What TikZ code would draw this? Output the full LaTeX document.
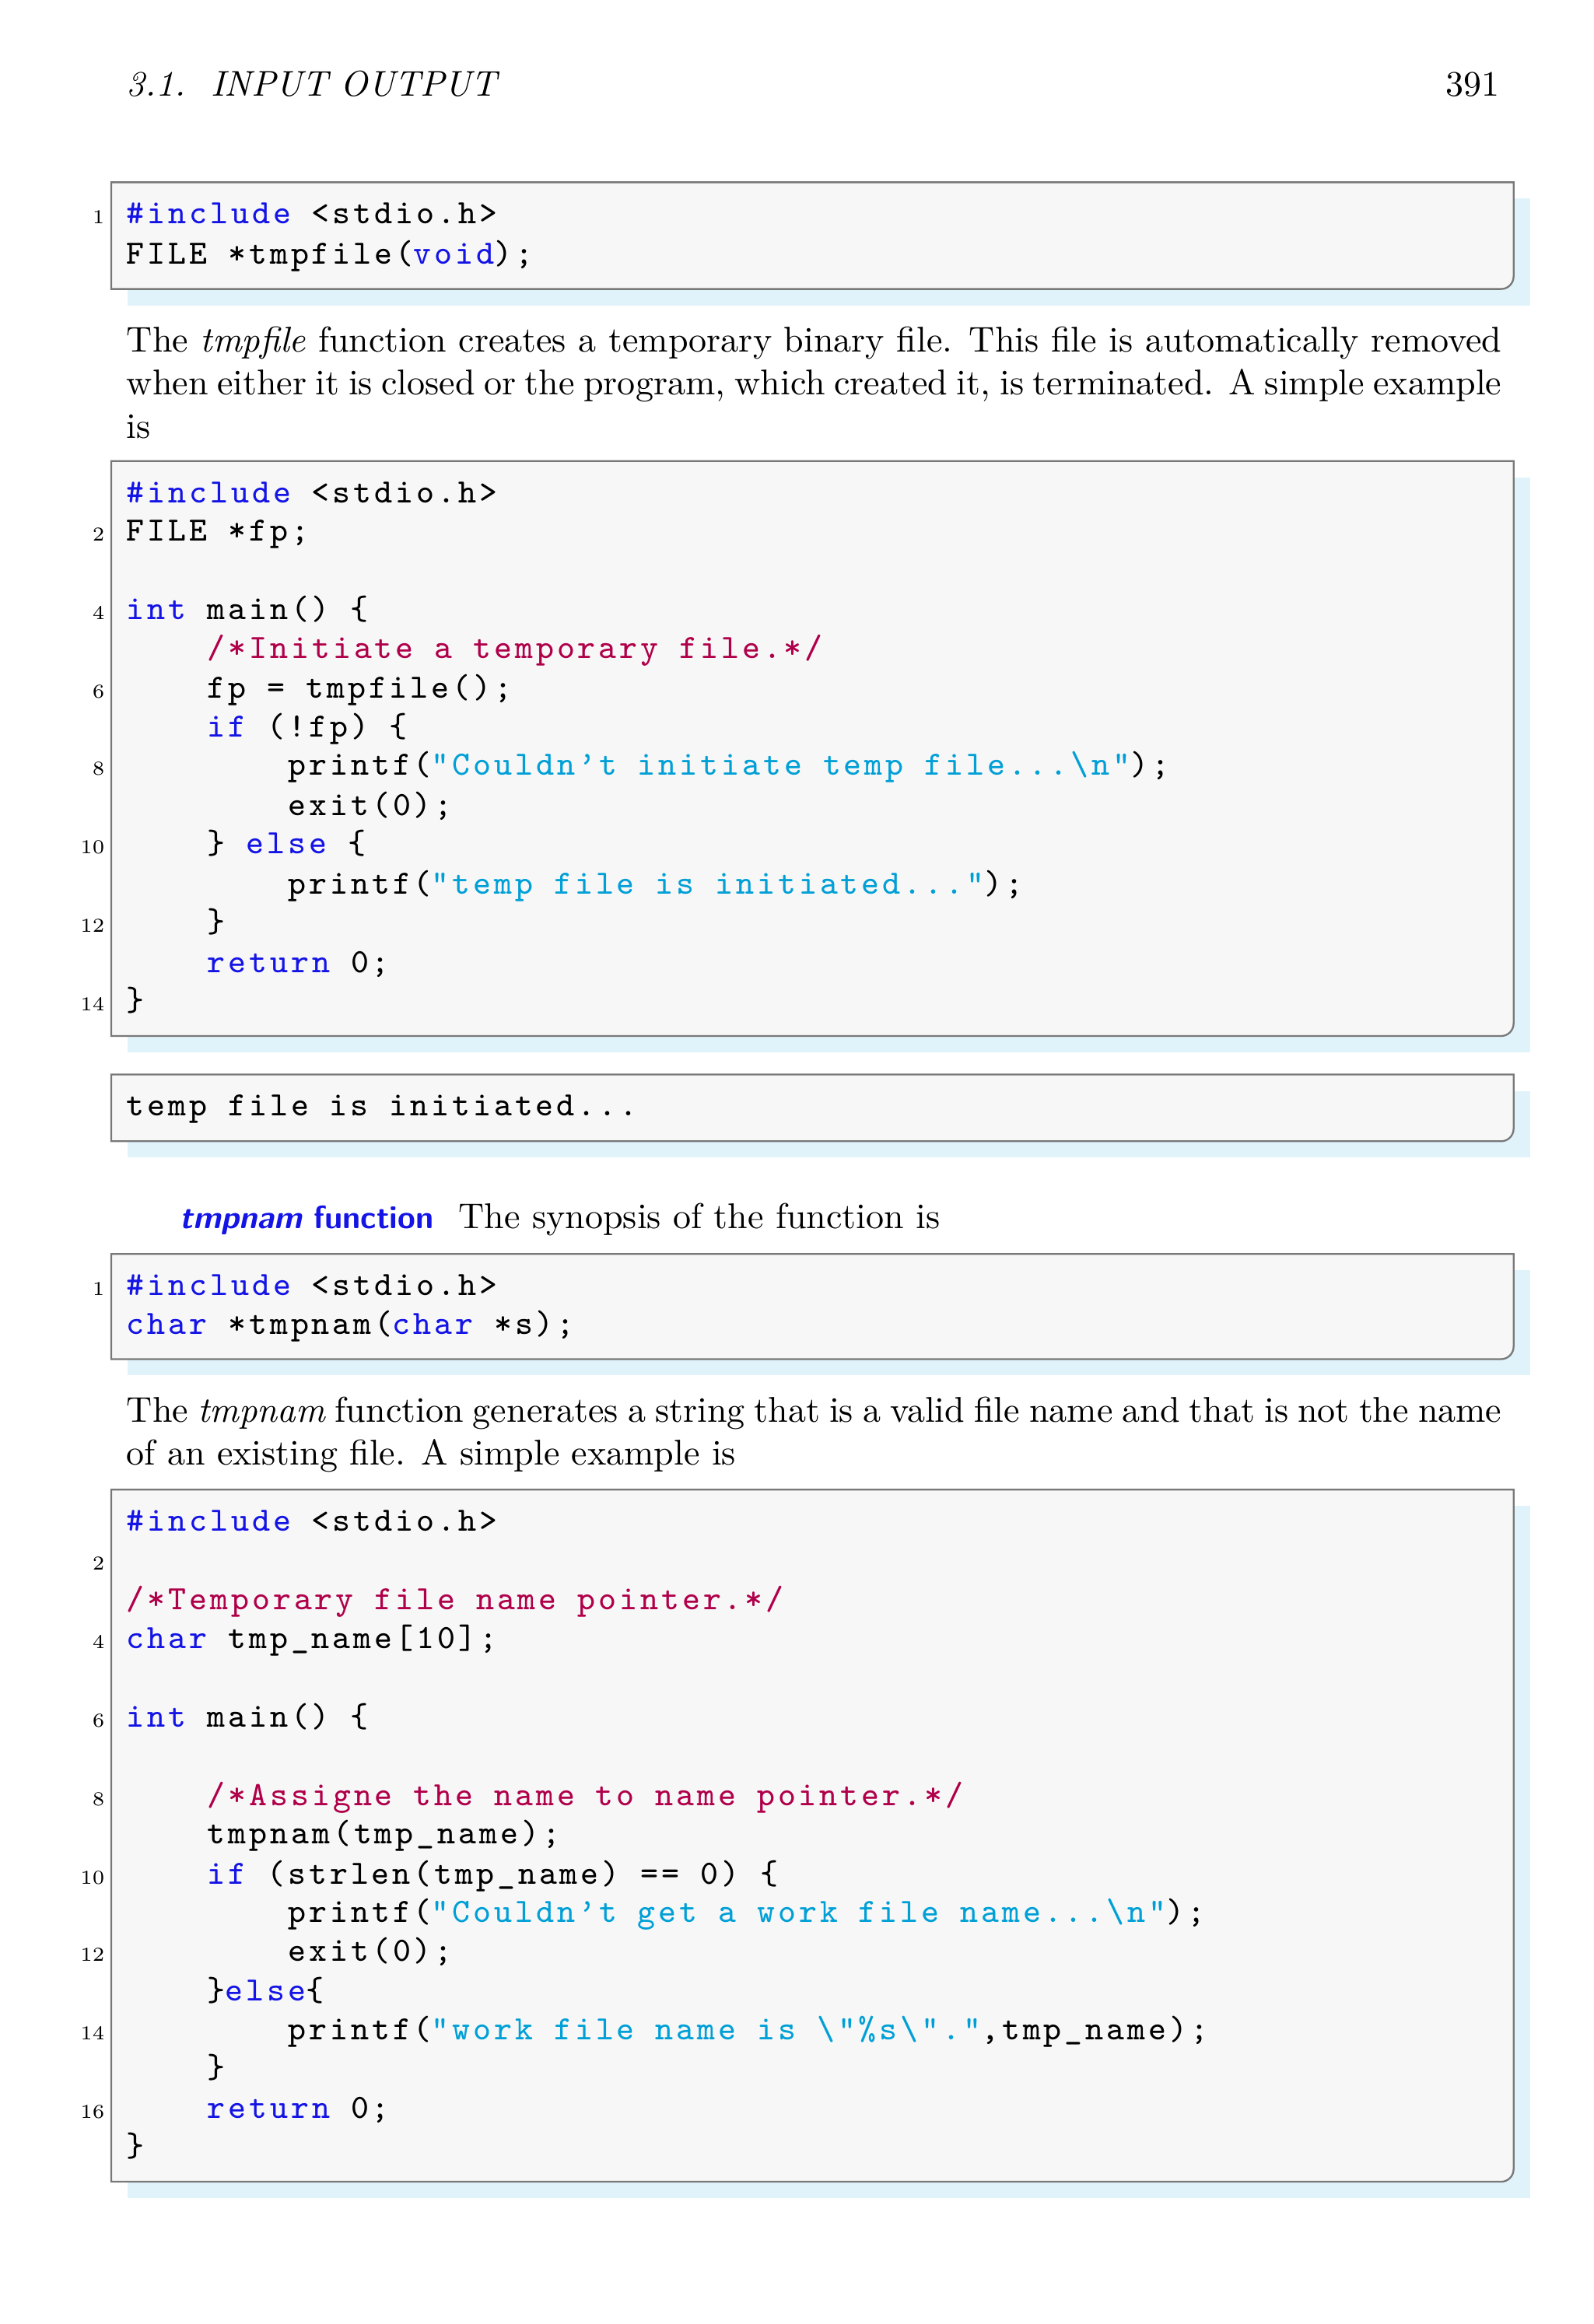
\documentclass[tikz,border=0pt]{standalone}
\usepackage{fontspec}
\newfontfamily\codefont{Latin Modern Mono}[LetterSpace=9]
\usepackage{xcolor}
\definecolor{kw}{RGB}{20,20,230}
\definecolor{cm}{RGB}{176,0,74}
\definecolor{st}{RGB}{0,160,215}
\definecolor{shad}{RGB}{224,243,251}
\definecolor{boxbg}{RGB}{247,247,247}
\definecolor{boxln}{RGB}{120,120,120}
\newcommand{\kw}[1]{\textcolor{kw}{#1}}
\newcommand{\cm}[1]{\textcolor{cm}{#1}}
\newcommand{\st}[1]{\textcolor{st}{#1}}
\newcommand{\bs}{\textbackslash}
\tikzset{
 code/.style={anchor=base west,inner sep=0pt,font=\fontsize{9.5}{12}\codefont},
 lnum/.style={anchor=base east,inner sep=0pt,font=\fontsize{5.5}{6}\selectfont},
 body/.style={inner sep=0pt,font=\fontsize{10}{12}\selectfont},
}
\newcommand{\cbox}[2]{%
 \fill[shad] (86,#1+11) rectangle (1032,#2+11);
 \draw[boxln,fill=boxbg,line width=0.5pt] (75,#1) -- (1021,#1) [rounded corners=3.5pt]-- (1021,#2) [sharp corners]-- (75,#2) -- cycle;}
\newcommand{\cl}[4]{\node[code] at (85+#2*54.5,#1) {#4};%
 \ifx\relax#3\relax\else\node[lnum] at (71,#1) {#3};\fi}
\begin{document}
\begin{tikzpicture}[x=0.414pt,y=-0.414pt]
\useasboundingbox (0,0) rectangle (1075,1568);
\fill[white] (0,0) rectangle (1075,1568);
\node[body,anchor=base west] (hd) at (85,65) {\itshape 3.1.\ \ INPUT OUTPUT};
\node[body,anchor=base east] (pg) at (1012,65) {391};
% box 1
\cbox{123}{195}
\cl{151}{0}{1}{\kw{\#include} <stdio.h>}
\cl{178}{0}{}{FILE *tmpfile(\kw{void});}
\node[body,anchor=north west,text width=384pt,align=justify] (p1) at (85,220)
 {The \textit{tmpfile} function creates a temporary binary file. This file is automatically removed when either it is closed or the program, which created it, is terminated. A simple example is};
% box 2
\cbox{311}{699}
\cl{339}{0}{}{\kw{\#include} <stdio.h>}
\cl{365}{0}{2}{FILE *fp;}
\cl{418}{0}{4}{\kw{int} main() \{}
\cl{444}{1}{}{\cm{/*Initiate a temporary file.*/}}
\cl{471}{1}{6}{fp = tmpfile();}
\cl{497}{1}{}{\kw{if} (!fp) \{}
\cl{523}{2}{8}{printf(\st{"Couldn\textquoteright t initiate temp file...\bs n"});}
\cl{550}{2}{}{exit(0);}
\cl{576}{1}{10}{\} \kw{else} \{}
\cl{603}{2}{}{printf(\st{"temp file is initiated..."});}
\cl{629}{1}{12}{\}}
\cl{656}{1}{}{\kw{return} 0;}
\cl{682}{0}{14}{\}}
% box 3
\cbox{725}{770}
\cl{753}{0}{}{temp file is initiated...}
\node[body,anchor=base west] (sec) at (121,829) {\textcolor{kw}{\fontsize{9}{11}\sffamily\bfseries\itshape tmpnam\upshape\ function}\hspace{7pt}The synopsis of the function is};
% box 4
\cbox{846}{917}
\cl{874}{0}{1}{\kw{\#include} <stdio.h>}
\cl{900}{0}{}{\kw{char} *tmpnam(\kw{char} *s);}
\node[body,anchor=north west,text width=384pt,align=justify] (p2) at (85,942)
 {The \textit{tmpnam} function generates a string that is a valid file name and that is not the name\linebreak of an existing file. A simple example is};
% box 5
\cbox{1005}{1472}
\cl{1033}{0}{}{\kw{\#include} <stdio.h>}
\cl{1059}{0}{2}{}
\cl{1086}{0}{}{\cm{/*Temporary file name pointer.*/}}
\cl{1112}{0}{4}{\kw{char} tmp\_name[10];}
\cl{1165}{0}{6}{\kw{int} main() \{}
\cl{1218}{1}{8}{\cm{/*Assigne the name to name pointer.*/}}
\cl{1244}{1}{}{tmpnam(tmp\_name);}
\cl{1271}{1}{10}{\kw{if} (strlen(tmp\_name) == 0) \{}
\cl{1297}{2}{}{printf(\st{"Couldn\textquoteright t get a work file name...\bs n"});}
\cl{1323}{2}{12}{exit(0);}
\cl{1350}{1}{}{\}\kw{else}\{}
\cl{1376}{2}{14}{printf(\st{"work file name is \bs"\%s\bs"."},tmp\_name);}
\cl{1402}{1}{}{\}}
\cl{1429}{1}{16}{\kw{return} 0;}
\cl{1455}{0}{}{\}}
\end{tikzpicture}
\end{document}
